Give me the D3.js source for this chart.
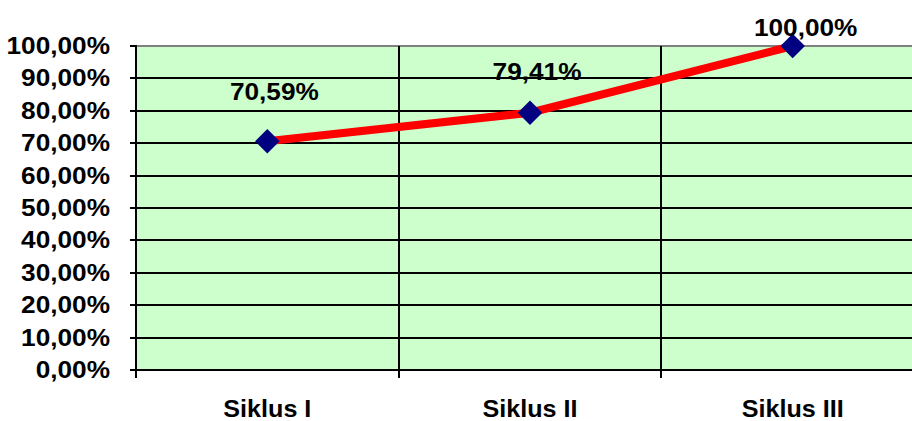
<!DOCTYPE html>
<html>
<head>
<meta charset="utf-8">
<script src="https://cdn.jsdelivr.net/npm/d3@7"></script>
<style>
    body { margin: 0; background: #ffffff; overflow: hidden; }
    svg text { font-family: 'Liberation Sans', Arial, sans-serif; font-weight: bold; fill: #000000; }
</style>
</head>
<body>
<div id="chart"></div>
<script>
var categories = ['Siklus I', 'Siklus II', 'Siklus III'];
var values = [70.59, 79.41, 100.00];
var yTicks = [0, 10, 20, 30, 40, 50, 60, 70, 80, 90, 100];

var width = 912;
var height = 421;
var plotLeft = 136;
var plotRight = 924; // runs past the window edge like the original
var plotTop = 46;
var plotBottom = 370;
var stretch = 1.14; // the original text is drawn a bit wide

function pct(v) {
    return v.toFixed(2).replace('.', ',') + '%';
}

window.onload = function() {
    render();
};

function render() {
    var svg = d3.select('#chart').append('svg')
        .attr('width', width)
        .attr('height', height);

    var x = d3.scaleBand()
        .domain(categories)
        .range([plotLeft, plotRight]);

    var y = d3.scaleLinear()
        .domain([0, 100])
        .range([plotBottom, plotTop]);

    // plot background
    svg.append('rect')
        .attr('x', plotLeft)
        .attr('y', plotTop)
        .attr('width', plotRight - plotLeft)
        .attr('height', plotBottom - plotTop)
        .attr('fill', '#ccffcc');

    // horizontal grid
    svg.selectAll('.hgrid')
        .data(yTicks.filter(function(d) { return d > 0 && d < 100; }))
        .enter().append('line')
        .attr('x1', plotLeft)
        .attr('x2', plotRight)
        .attr('y1', function(d) { return Math.round(y(d)); })
        .attr('y2', function(d) { return Math.round(y(d)); })
        .attr('stroke', '#000000')
        .attr('stroke-width', 2);

    // top border is grey
    svg.append('line')
        .attr('x1', plotLeft).attr('x2', plotRight)
        .attr('y1', plotTop).attr('y2', plotTop)
        .attr('stroke', '#808080')
        .attr('stroke-width', 2);

    // vertical gridlines between categories, with ticks below the axis
    var bounds = categories.map(function(c) { return Math.round(x(c)); }).slice(1);
    svg.selectAll('.vgrid')
        .data(bounds)
        .enter().append('line')
        .attr('x1', function(d) { return d; })
        .attr('x2', function(d) { return d; })
        .attr('y1', plotTop)
        .attr('y2', plotBottom + 8)
        .attr('stroke', '#000000')
        .attr('stroke-width', 2);

    // y axis
    var yAxis = d3.axisLeft(y)
        .tickValues(yTicks)
        .tickSize(0)
        .tickPadding(0)
        .tickFormat(pct);
    var yg = svg.append('g')
        .attr('transform', 'translate(' + plotLeft + ',0)')
        .call(yAxis);
    yg.select('.domain').remove();
    yg.selectAll('.tick')
        .attr('transform', function(d) { return 'translate(0,' + Math.round(y(d)) + ')'; });
    yg.selectAll('.tick').append('line')
        .attr('x1', -6).attr('x2', 0)
        .attr('stroke', '#000000').attr('stroke-width', 2);
    yg.selectAll('.tick text')
        .attr('x', 0)
        .attr('dy', '0.36em')
        .attr('transform', 'translate(-26,0) scale(' + stretch + ',1)')
        .style('font-size', '23px');
    svg.append('line')
        .attr('x1', plotLeft).attr('x2', plotLeft)
        .attr('y1', plotTop - 1).attr('y2', plotBottom + 8)
        .attr('stroke', '#000000')
        .attr('stroke-width', 2);

    // x axis
    svg.append('line')
        .attr('x1', plotLeft - 6).attr('x2', plotRight)
        .attr('y1', plotBottom).attr('y2', plotBottom)
        .attr('stroke', '#000000')
        .attr('stroke-width', 2);
    svg.selectAll('.xlabel')
        .data(categories)
        .enter().append('text')
        .attr('transform', function(d) {
            return 'translate(' + (x(d) + x.bandwidth() / 2) + ',417) scale(1.07,1)';
        })
        .style('text-anchor', 'middle')
        .style('font-size', '23.5px')
        .text(function(d) { return d; });

    // the line
    var line = d3.line()
        .x(function(d, i) { return x(categories[i]) + x.bandwidth() / 2; })
        .y(function(d) { return y(d); });
    svg.append('path')
        .datum(values)
        .attr('d', line)
        .attr('fill', 'none')
        .attr('stroke', '#ff0000')
        .attr('stroke-width', 8);

    // diamond markers
    var diamond = d3.symbol().type(d3.symbolSquare).size(300);
    svg.selectAll('.marker')
        .data(values)
        .enter().append('path')
        .attr('d', diamond)
        .attr('transform', function(d, i) {
            return 'translate(' + (x(categories[i]) + x.bandwidth() / 2) + ',' + y(d) + ') rotate(45)';
        })
        .attr('fill', '#000080');

    // data labels
    var labelLift = [41, 33, 10];
    svg.selectAll('.dlabel')
        .data(values)
        .enter().append('text')
        .attr('transform', function(d, i) {
            var lx = x(categories[i]) + x.bandwidth() / 2 + (i === 2 ? 13 : 7);
            return 'translate(' + lx + ',' + (y(d) - labelLift[i]) + ') scale(' + stretch + ',1)';
        })
        .style('text-anchor', 'middle')
        .style('font-size', '23px')
        .text(function(d) { return pct(d); });
}
</script>
</body>
</html>
